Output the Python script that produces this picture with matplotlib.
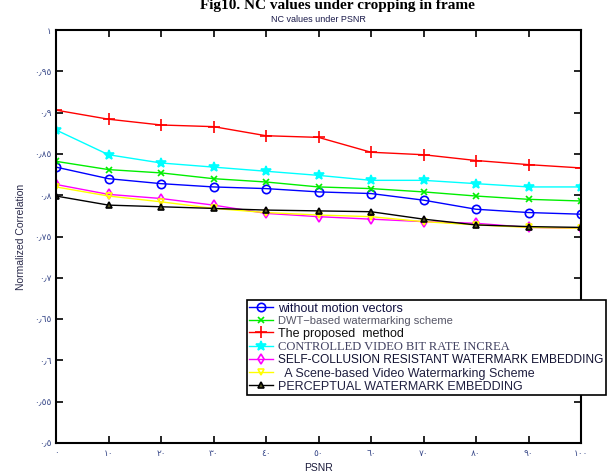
import matplotlib
matplotlib.use("Agg")
import matplotlib.pyplot as plt

x = [0, 10, 20, 30, 40, 50, 60, 70, 80, 90, 100]

without_mv = [0.834, 0.820, 0.814, 0.810, 0.808, 0.804, 0.802, 0.794, 0.783, 0.779, 0.777]
dwt = [0.841, 0.831, 0.827, 0.820, 0.816, 0.810, 0.808, 0.804, 0.799, 0.795, 0.793]
proposed = [0.903, 0.892, 0.885, 0.883, 0.872, 0.870, 0.852, 0.849, 0.842, 0.837, 0.833]
controlled = [0.879, 0.849, 0.839, 0.834, 0.829, 0.824, 0.818, 0.818, 0.814, 0.810, 0.810]
self_collusion = [0.813, 0.801, 0.796, 0.788, 0.778, 0.774, 0.771, 0.768, 0.766, 0.761, 0.760]
scene_based = [0.810, 0.799, 0.792, 0.784, 0.779, 0.776, 0.774, 0.768, 0.764, 0.761, 0.760]
perceptual = [0.799, 0.788, 0.786, 0.784, 0.782, 0.781, 0.780, 0.771, 0.764, 0.762, 0.761]

labels = [
    "without motion vectors",
    "DWT\u2212based watermarking scheme",
    "The proposed  method",
    "CONTROLLED VIDEO BIT RATE INCREA",
    "SELF-COLLUSION RESISTANT WATERMARK EMBEDDING",
    "  A Scene-based Video Watermarking Scheme",
    "PERCEPTUAL WATERMARK EMBEDDING",
]

xticks = [0, 10, 20, 30, 40, 50, 60, 70, 80, 90, 100]
xticklabels = ["٠", "١٠", "٢٠", "٣٠", "٤٠", "٥٠", "٦٠", "٧٠", "٨٠", "٩٠", "١٠٠"]
yticks = [0.5, 0.55, 0.6, 0.65, 0.7, 0.75, 0.8, 0.85, 0.9, 0.95, 1.0]
yticklabels = ["٠٫٥", "٠٫٥٥", "٠٫٦", "٠٫٦٥", "٠٫٧", "٠٫٧٥", "٠٫٨", "٠٫٨٥", "٠٫٩", "٠٫٩٥", "١"]

W, H = 613, 473
fig = plt.figure(figsize=(W / 100, H / 100), dpi=100)
ax = fig.add_axes([56 / W, 1 - 443 / H, (581 - 56) / W, (443 - 30) / H])

series = [without_mv, dwt, proposed, controlled, self_collusion, scene_based, perceptual]
colors = ["#0000ff", "#00ee00", "#ff0000", "#00ffff", "#ff00ff", "#ffff00", "#000000"]
markers = ["o", "x", "+", "*", "d", "v", "^"]
msizes = [6, 5, 8, 7, 5, 5, 5]

handles = []
for ys, c, m, ms, lab in zip(series, colors, markers, msizes, labels):
    filled = m in ("*",)
    h, = ax.plot(x, ys, color=c, lw=1.0, marker=m, ms=ms, mew=1.2,
                 mfc=(c if filled else "none"), mec=c, label=lab)
    handles.append(h)

handles[6].set_markerfacecolor("#555522")

ax.set_xlim(0, 100)
ax.set_ylim(0.5, 1.0)
ax.set_xticks(xticks)
ax.set_xticklabels(xticklabels)
ax.set_yticks(yticks)
ax.set_yticklabels(yticklabels)

for lbl in ax.get_xticklabels() + ax.get_yticklabels():
    lbl.set_family(["DejaVu Sans"])
    lbl.set_fontsize(6.5)
    lbl.set_color("#3a4a8a")

ax.tick_params(axis="y", direction="in", length=5, width=1.2, right=True, pad=3)
ax.tick_params(axis="x", direction="in", length=5, width=1.2, top=True, pad=4)
for s in ax.spines.values():
    s.set_linewidth(1.5)

ax.set_title("NC values under PSNR", fontsize=6.5, family="Liberation Sans",
             color="#1a1a4a", pad=6)
ax.set_xlabel("PSNR", fontsize=7.5, family="Liberation Sans", color="#1a1a3a", labelpad=4)
ax.set_ylabel("Normalized Correlation", fontsize=7.5, family="Liberation Sans",
              color="#2a2a4a", labelpad=6)

fig.text(337 / W, 1 - 9 / H, "Fig10. NC values under cropping in frame",
         ha="center", va="baseline", fontsize=11, fontweight="bold",
         family="Liberation Serif", color="black")

leg = fig.legend(handles=handles, loc="upper left",
                 bbox_to_anchor=(247 / W, 1 - 300 / H), frameon=True,
                 fancybox=False, edgecolor="black", framealpha=1.0,
                 borderpad=0.2, labelspacing=0.1, handlelength=1.9,
                 handletextpad=0.4, borderaxespad=0.0, fontsize=9)
leg.get_frame().set_linewidth(1.2)
fonts = ["Liberation Sans", "Liberation Sans", "Liberation Sans", "Liberation Serif",
         "Liberation Sans", "Liberation Sans", "Liberation Sans"]
fsizes = [9, 8, 9, 9, 8.6, 9, 9]
tcolors = ["#101040", "#555566", "#101010", "#404060", "#101030", "#202040", "#202040"]
for t, f, fs, tc in zip(leg.get_texts(), fonts, fsizes, tcolors):
    t.set_family(f)
    t.set_fontsize(fs)
    t.set_color(tc)

fig.savefig("out.png", dpi=100)
